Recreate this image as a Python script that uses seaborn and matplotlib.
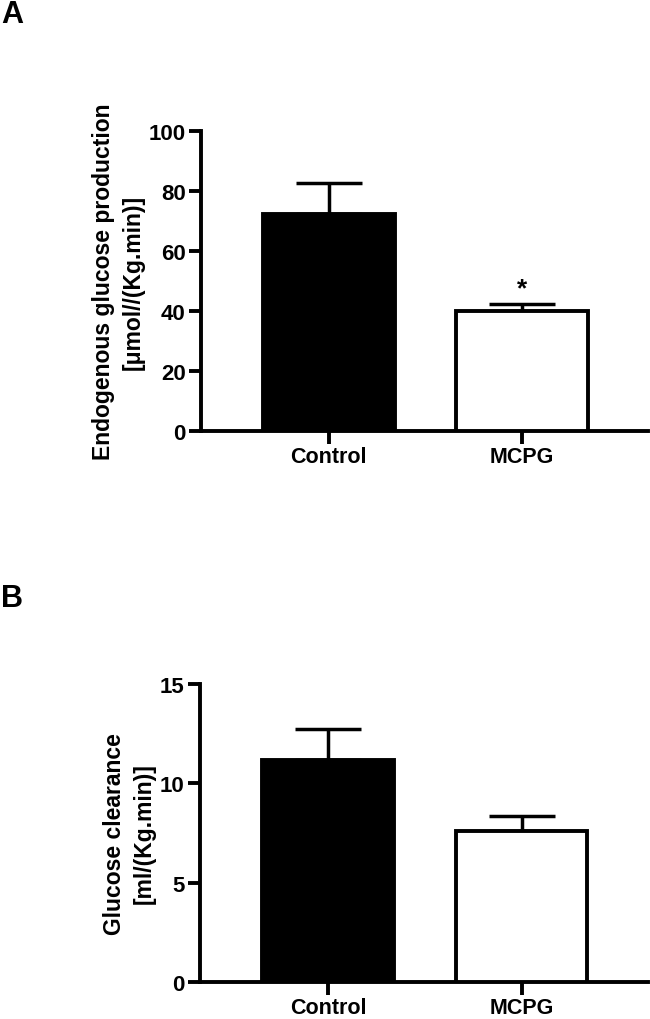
import numpy as np
import pandas as pd
import matplotlib
matplotlib.use("Agg")
import matplotlib.pyplot as plt
import seaborn as sns

groups = ["Control", "MCPG"]
egp_mean = [72.3, 40.1]
egp_sem = [10.4, 2.1]
clear_mean = [11.2, 7.6]
clear_sem = [1.53, 0.75]
bar_colors = ["black", "white"]

sns.set_style("ticks")
plt.rcParams["font.family"] = ["Liberation Sans", "DejaVu Sans"]
plt.rcParams["font.weight"] = "bold"
for key in ["text.color", "axes.labelcolor", "xtick.color", "ytick.color", "axes.edgecolor"]:
    plt.rcParams[key] = "black"


def bar_panel(ax, means, sems, ylim, yticks, ylabel, label_x):
    df = pd.DataFrame({"group": groups, "value": means})
    sns.barplot(data=df, x="group", y="value", hue="group", palette=bar_colors,
                edgecolor="black", linewidth=2.8, width=0.68, errorbar=None,
                legend=False, ax=ax, zorder=3)
    # only the upper half of the SEM bar, like GraphPad
    ax.errorbar(range(len(means)), means, yerr=[np.zeros(len(sems)), sems],
                fmt="none", ecolor="black", elinewidth=2.5, capsize=24,
                capthick=2.5, zorder=2)
    ax.set_xlim(-0.663, 1.653)
    ax.set_ylim(*ylim)
    ax.set_yticks(yticks)
    ax.set_xlabel("")
    ax.set_ylabel(ylabel, fontsize=16.5, fontweight="bold", linespacing=1.4)
    ax.yaxis.set_label_coords(label_x, 0.5)
    sns.despine(ax=ax)
    for s in ["left", "bottom"]:
        ax.spines[s].set_linewidth(2.8)
    ax.tick_params(axis="both", width=2.8, length=9, labelsize=16)
    ax.tick_params(axis="y", pad=2)
    ax.tick_params(axis="x", pad=1.5, labelsize=15.5)
    for t in ax.get_xticklabels() + ax.get_yticklabels():
        t.set_fontweight("bold")


fig = plt.figure(figsize=(6.5, 10.2), dpi=100)
ax1 = fig.add_axes([0.309, 0.5765, 0.688, 0.2941])
ax2 = fig.add_axes([0.307, 0.0363, 0.690, 0.2921])

bar_panel(ax1, egp_mean, egp_sem, (0, 100), [0, 20, 40, 60, 80, 100],
          "Endogenous glucose production\n[\u03bcmol//(Kg.min)]", -0.125)
ax1.text(1, egp_mean[1] + egp_sem[1] + 1.2, "*", ha="center", va="bottom",
         fontsize=19, fontweight="bold")

bar_panel(ax2, clear_mean, clear_sem, (0, 15), [0, 5, 10, 15],
          "Glucose clearance\n[ml/(Kg.min)]", -0.097)

fig.text(0.002, 1.0, "A", fontsize=22, fontweight="bold", va="top", ha="left")
fig.text(0.002, 1 - 584 / 1020, "B", fontsize=22, fontweight="bold", va="top", ha="left")

fig.savefig("out.png", dpi=100)
